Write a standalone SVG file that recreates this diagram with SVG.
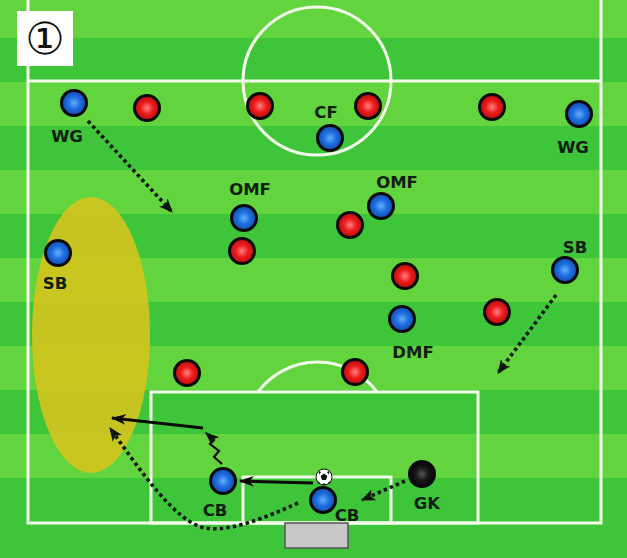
<svg xmlns="http://www.w3.org/2000/svg" width="627" height="558" viewBox="0 0 627 558">
<defs>
<style>
.line{fill:none;stroke:#f2fbe9;stroke-width:3}
.lbl{font-family:"DejaVu Sans","Liberation Sans",sans-serif;font-weight:bold;font-size:16.5px;fill:#102010;text-anchor:middle}
.pl{stroke:#0a0a0a;stroke-width:3}
.blue{fill:url(#gb)}
.red{fill:url(#gr)}
.gk{fill:url(#gk)}
.dot{fill:none;stroke:#0b170b;stroke-width:3.6;stroke-dasharray:3.4 3.2}
.sol{fill:none;stroke:#0a0a0a;stroke-width:3}
</style>
<radialGradient id="gb" cx="50%" cy="50%" r="55%">
<stop offset="0" stop-color="#63aefc"/>
<stop offset="0.45" stop-color="#1f6fe0"/>
<stop offset="1" stop-color="#0c44a8"/>
</radialGradient>
<radialGradient id="gr" cx="50%" cy="50%" r="55%">
<stop offset="0" stop-color="#ff8080"/>
<stop offset="0.45" stop-color="#ec1c1c"/>
<stop offset="1" stop-color="#b00a0a"/>
</radialGradient>
<radialGradient id="gk" cx="50%" cy="50%" r="55%">
<stop offset="0" stop-color="#555"/>
<stop offset="0.45" stop-color="#1a1a1a"/>
<stop offset="1" stop-color="#000"/>
</radialGradient>
<marker id="ad" viewBox="0 0 12 10" refX="11" refY="5" markerWidth="14" markerHeight="12" markerUnits="userSpaceOnUse" orient="auto">
<path d="M0,0 L12,5 L0,10 L3,5 z" fill="#0b170b"/>
</marker>
<marker id="as" viewBox="0 0 14 10" refX="13" refY="5" markerWidth="15" markerHeight="11" markerUnits="userSpaceOnUse" orient="auto">
<path d="M0,0 L14,5 L0,10 L4,5 z" fill="#0a0a0a"/>
</marker>
</defs>
<g id="pitch">
<rect x="0" y="0" width="627" height="558" fill="#3ec53a"/>
<g fill="#62d43d">
<rect x="0" y="0" width="627" height="38"/>
<rect x="0" y="82" width="627" height="44"/>
<rect x="0" y="170" width="627" height="44"/>
<rect x="0" y="258" width="627" height="44"/>
<rect x="0" y="346" width="627" height="44"/>
<rect x="0" y="434" width="627" height="44"/>
</g>
<ellipse cx="91" cy="335" rx="59" ry="138" fill="#d8c41c" opacity="0.88"/>
<path class="line" d="M28,0 V523 H601 V0 M28,81 H601"/>
<circle class="line" cx="317" cy="81" r="74"/>
<rect class="line" x="151" y="392" width="327" height="131"/>
<rect class="line" x="243" y="477" width="148" height="46"/>
<path class="line" d="M258,392 A74,74 0 0 1 377,392"/>
<rect x="285" y="523" width="63" height="25" fill="#c8c8c8" stroke="#555" stroke-width="1.5"/>
</g>
<g id="title">
<rect x="17" y="11" width="56" height="55" fill="#ffffff"/>
<text x="45" y="54" font-family="'DejaVu Sans','Noto Sans CJK JP',sans-serif" font-size="44" text-anchor="middle" fill="#111">①</text>
</g>
<g id="connectors">
<path class="dot" d="M88,121 L172,212" marker-end="url(#ad)"/>
<path class="dot" d="M556,295 L498,373" marker-end="url(#ad)"/>
<path class="dot" d="M405,481 L362,500" marker-end="url(#ad)"/>
<path class="dot" d="M298,503 C265,518 230,532 205,528 C175,522 140,470 110,428" marker-end="url(#ad)"/>
<path class="sol" d="M313,483 L240,481" marker-end="url(#as)"/>
<path fill="none" stroke="#0a0a0a" stroke-width="2.2" d="M222,464 L214,457 L219,451 L210,444 L214,440 L206,433" marker-end="url(#ad)"/>
<path class="sol" d="M203,428 L112,418" marker-end="url(#as)"/>
</g>
<g id="red-players">
<circle id="r1" class="pl red" cx="147" cy="108" r="12.5"/>
<circle id="r2" class="pl red" cx="260" cy="106" r="12.5"/>
<circle id="r3" class="pl red" cx="368" cy="106" r="12.5"/>
<circle id="r4" class="pl red" cx="492" cy="107" r="12.5"/>
<circle id="r5" class="pl red" cx="242" cy="251" r="12.5"/>
<circle id="r6" class="pl red" cx="350" cy="225" r="12.5"/>
<circle id="r7" class="pl red" cx="405" cy="276" r="12.5"/>
<circle id="r8" class="pl red" cx="497" cy="312" r="12.5"/>
<circle id="r9" class="pl red" cx="355" cy="372" r="12.5"/>
<circle id="r10" class="pl red" cx="187" cy="373" r="12.5"/>
</g>
<g id="wg-left"><circle class="pl blue" cx="74" cy="103" r="12.5"/><text class="lbl" x="67" y="142">WG</text></g>
<g id="cf"><circle class="pl blue" cx="330" cy="138" r="12.5"/><text class="lbl" x="326" y="118">CF</text></g>
<g id="wg-right"><circle class="pl blue" cx="579" cy="114" r="12.5"/><text class="lbl" x="573" y="153">WG</text></g>
<g id="omf-left"><circle class="pl blue" cx="244" cy="218" r="12.5"/><text class="lbl" x="250" y="195">OMF</text></g>
<g id="omf-right"><circle class="pl blue" cx="381" cy="206" r="12.5"/><text class="lbl" x="397" y="188">OMF</text></g>
<g id="sb-left"><circle class="pl blue" cx="58" cy="253" r="12.5"/><text class="lbl" x="55" y="289">SB</text></g>
<g id="sb-right"><circle class="pl blue" cx="565" cy="270" r="12.5"/><text class="lbl" x="575" y="253">SB</text></g>
<g id="dmf"><circle class="pl blue" cx="402" cy="319" r="12.5"/><text class="lbl" x="413" y="358">DMF</text></g>
<g id="cb-left"><circle class="pl blue" cx="223" cy="481" r="12.5"/><text class="lbl" x="215" y="516">CB</text></g>
<g id="ball">
<circle cx="324" cy="477" r="8" fill="#fff" stroke="#111" stroke-width="1"/>
<polygon points="324,473.5 327.3,476 326,480 322,480 320.7,476" fill="#111"/>
<path d="M318,471 L321,472 L319.5,474.5 Z M330,471 L327,472 L328.5,474.5 Z M317,481 L320,482.5 L318.5,484 Z M331,481 L328,482.5 L329.5,484 Z M322.5,485 L325.5,485 L324,482.8 Z" fill="#111"/>
</g>
<g id="cb-center"><circle class="pl blue" cx="323" cy="500" r="12.5"/><text class="lbl" x="347" y="521">CB</text></g>
<g id="gk"><circle class="pl gk" cx="422" cy="474" r="12.5"/><text class="lbl" x="427" y="509">GK</text></g>
</svg>
